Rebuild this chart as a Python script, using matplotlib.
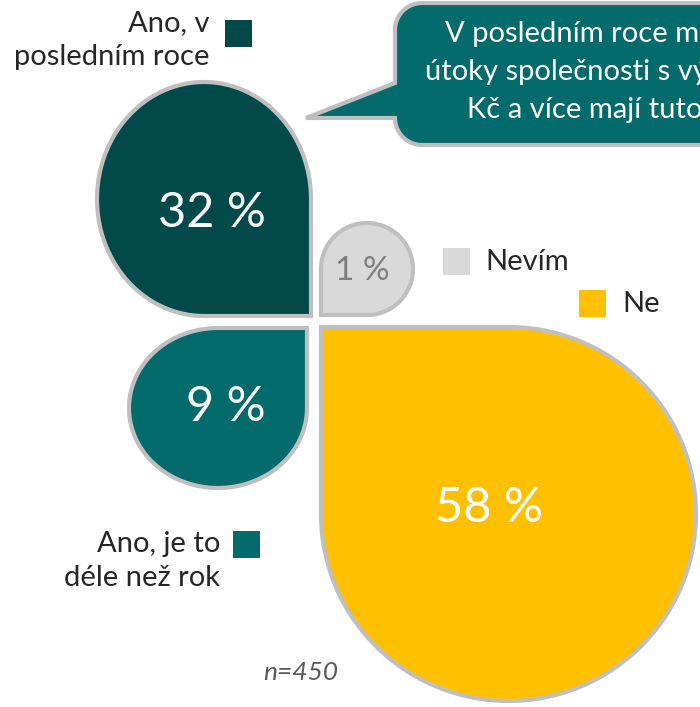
import numpy as np
import matplotlib
matplotlib.use('Agg')
import matplotlib.pyplot as plt
from matplotlib.patches import Polygon, Rectangle

plt.rcParams['font.family'] = ['Lato', 'DejaVu Sans']

# ===== Data =====
categories = ['Ano, v\nposledním roce', 'Nevím', 'Ano, je to\ndéle než rok', 'Ne']
values = [32, 1, 9, 58]
colors = ['#02494A', '#D9D9D9', '#036B6B', '#FFC000']
value_colors = ['white', '#7F7F7F', 'white', 'white']
sample_note = 'n=450'
callout_lines = ['V posledním roce m', 'útoky společnosti s vý', 'Kč a více mají tuto']

# ===== Layout (pixel coordinates, y down) =====
# petal: square corner (x, y), corner direction (sx, sy), radii (rx, ry)
petal_corner = [(311, 316), (321, 315), (307, 328), (321, 327)]
petal_dir = [(1, 1), (-1, 1), (1, -1), (-1, -1)]
petal_radius = [(107, 117), (46, 46), (89, 80), (187.5, 187)]
value_pos = [(212, 213), (362, 271), (226, 407), (489, 508)]
value_size = [35, 24, 35, 35]
legend_square = [(225, 20), (443, 248), (233, 531), (579, 290)]
legend_text = [(209, 40, 'right'), (485, 262, 'left'), (220, 561, 'right'), (622, 304, 'left')]
BORDER = '#BFBFBF'


def teardrop(corner, direction, radius, n=120):
    sx, sy = direction
    rx, ry = radius
    cx, cy = corner[0] - sx * rx, corner[1] - sy * ry
    phi = np.arctan2(sy, sx)
    t = np.linspace(phi + np.pi / 4, phi + np.pi / 4 + 1.5 * np.pi, n)
    pts = np.column_stack([cx + rx * np.cos(t), cy + ry * np.sin(t)])
    return np.vstack([pts, corner])


def rounded_callout(x0, y0, x1, y1, r, tip, base_top, n=20):
    pts = []
    # left edge down to pointer, pointer, continue down
    pts.append((x0, y0 + r))
    pts.append((x0, base_top))
    pts.append(tip)
    pts.append((x0, tip[1]))
    # bottom-left corner
    a = np.linspace(np.pi, np.pi / 2, n)
    pts += list(zip(x0 + r + r * np.cos(a), y1 - r + r * np.sin(a)))
    pts += [(x1, y1), (x1, y0)]
    # top-left corner
    a = np.linspace(-np.pi / 2, -np.pi, n)
    pts += list(zip(x0 + r + r * np.cos(a), y0 + r + r * np.sin(a)))
    return np.array(pts)


fig = plt.figure(figsize=(7, 7.07), dpi=100)
ax = fig.add_axes([0, 0, 1, 1])
ax.set_xlim(0, 700)
ax.set_ylim(707, 0)
ax.axis('off')

# petals
for i, v in enumerate(values):
    poly = Polygon(teardrop(petal_corner[i], petal_dir[i], petal_radius[i]),
                   closed=True, facecolor=colors[i], edgecolor=BORDER,
                   linewidth=3, joinstyle='miter', zorder=2)
    ax.add_patch(poly)
    ax.text(value_pos[i][0], value_pos[i][1], f'{v} %', color=value_colors[i],
            fontsize=value_size[i], ha='center', va='center', zorder=3)

# legend entries
for i, lab in enumerate(categories):
    sx_, sy_ = legend_square[i]
    ax.add_patch(Rectangle((sx_, sy_), 27, 27, facecolor=colors[i], edgecolor='none'))
    tx, ty, ha = legend_text[i]
    ax.text(tx, ty, lab, fontsize=21, color='#262626', ha=ha, va='center',
            multialignment=ha, linespacing=1.42)

# callout bubble (text is cut by the right edge, as in the source slide)
bubble = Polygon(rounded_callout(395, 3, 780, 145, 27, (306, 118), 83),
                 closed=True, facecolor='#036B6B', edgecolor=BORDER,
                 linewidth=3, zorder=2)
ax.add_patch(bubble)
for (x, y), line in zip([(445, 34), (425, 72), (467, 110)], callout_lines):
    ax.text(x, y, line, fontsize=21, color='white', ha='left', va='center',
            zorder=3, clip_on=True)

ax.text(338, 672, sample_note, fontsize=19, color='#595959', style='italic',
        ha='right', va='center')

plt.savefig('out.png', dpi=100)
